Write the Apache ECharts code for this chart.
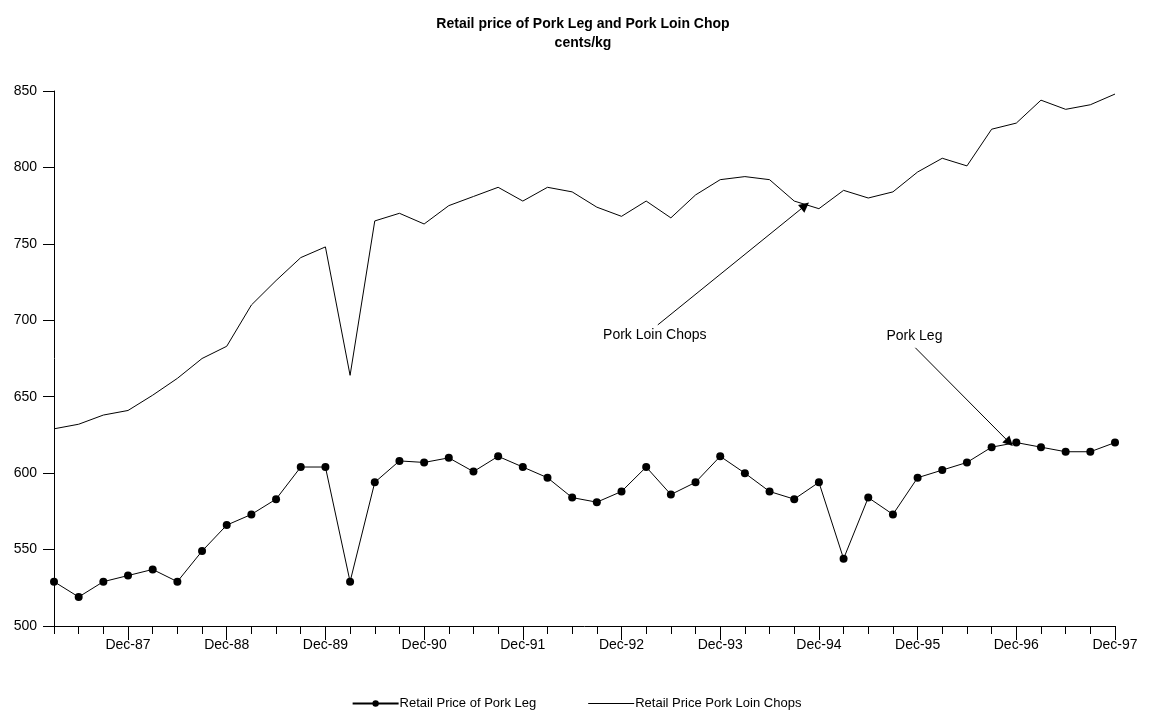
<!DOCTYPE html>
<html>
<head>
<meta charset="utf-8">
<title>Retail price of Pork Leg and Pork Loin Chop</title>
<script src="https://cdn.jsdelivr.net/npm/echarts@6/dist/echarts.min.js"></script>
<style>
  html, body { margin: 0; padding: 0; background: #fff; }
  #chart { width: 1153px; height: 715px; }
</style>
</head>
<body>
<div id="chart"></div>
<script>
// Quarterly observations, Mar-87 .. Dec-97
const years = ['87', '88', '89', '90', '91', '92', '93', '94', '95', '96', '97'];
const quarterMonths = ['Mar', 'Jun', 'Sep', 'Dec'];
const categories = years.flatMap(y => quarterMonths.map(m => m + '-' + y));

// cents/kg
const porkLeg = [
  529, 519, 529, 533, 537, 529, 549, 566, 573, 583, 604, 604,
  529, 594, 608, 607, 610, 601, 611, 604, 597, 584, 581, 588,
  604, 586, 594, 611, 600, 588, 583, 594, 544, 584, 573, 597,
  602, 607, 617, 620, 617, 614, 614, 620
];
const porkLoin = [
  629, 632, 638, 641, 651, 662, 675, 683, 710, 726, 741, 748,
  664, 765, 770, 763, 775, 781, 787, 778, 787, 784, 774, 768,
  778, 767, 782, 792, 794, 792, 778, 773, 785, 780, 784, 797,
  806, 801, 825, 829, 844, 838, 841, 848
];

const yTicks = { min: 500, max: 850, step: 50 };

// Callout anchors in data space: [quarter index, cents/kg]
const loinCallout = { text: 'Pork Loin Chops', label: [24.35, 690], from: [24.47, 697], to: [30.44, 775] };
const legCallout = { text: 'Pork Leg', label: [34.87, 689.5], from: [34.91, 682], to: [38.72, 620] };

const toPairs = arr => arr.map((v, i) => [i, v]);
const isDec = i => i % 4 === 3;
const FONT = 'Liberation Sans, Arial, sans-serif';

function callout(c) {
  return {
    markLine: {
      silent: true,
      animation: false,
      symbol: ['none', 'triangle'],
      symbolSize: 10,
      label: { show: false },
      lineStyle: { color: '#000', width: 1, type: 'solid' },
      emphasis: { disabled: true },
      data: [[{ coord: c.from }, { coord: c.to }]]
    },
    markPoint: {
      silent: true,
      animation: false,
      symbolSize: 0,
      label: { show: true, position: 'inside', color: '#000', fontSize: 14, fontFamily: FONT, formatter: c.text },
      data: [{ coord: c.label }]
    }
  };
}

const chart = echarts.init(document.getElementById('chart'), null, { renderer: 'canvas' });

chart.setOption({
  animation: false,
  backgroundColor: '#fff',
  textStyle: { fontFamily: FONT, color: '#000' },
  title: {
    text: 'Retail price of Pork Leg and Pork Loin Chop\ncents/kg',
    left: 578,
    top: 10,
    textAlign: 'center',
    textStyle: { fontSize: 14, fontWeight: 'bold', color: '#000', fontFamily: FONT, lineHeight: 19 }
  },
  legend: {
    bottom: 0,
    left: 'center',
    itemWidth: 46,
    itemHeight: 8,
    itemGap: 52,
    textStyle: { fontSize: 13, color: '#000', fontFamily: FONT, padding: [0, 0, 0, -4] },
    data: [
      { name: 'Retail Price of Pork Leg' },
      // plain line key, no marker
      { name: 'Retail Price Pork Loin Chops', icon: 'path://M0,0 L46,0 L46,1 L0,1 Z' }
    ]
  },
  grid: { left: 54, right: 38, top: 91, bottom: 89, containLabel: false },
  xAxis: [
    {
      type: 'value',
      min: 0,
      max: categories.length - 1,
      interval: 1,
      axisLine: { show: true, lineStyle: { color: '#000', width: 1 } },
      axisTick: { show: true, length: 8, lineStyle: { color: '#000' } },
      axisLabel: { show: false },
      splitLine: { show: false }
    },
    {
      type: 'category',
      position: 'bottom',
      boundaryGap: false,
      data: categories,
      axisLine: { show: false },
      axisTick: { show: true, length: 14, interval: isDec, lineStyle: { color: '#000' } },
      axisLabel: { show: true, interval: isDec, margin: 12, fontSize: 14, color: '#000', fontFamily: FONT },
      splitLine: { show: false }
    }
  ],
  yAxis: {
    type: 'value',
    min: yTicks.min,
    max: yTicks.max,
    interval: yTicks.step,
    axisLine: { show: true, lineStyle: { color: '#000', width: 1 } },
    axisTick: { show: true, length: 11, lineStyle: { color: '#000' } },
    axisLabel: { margin: 17, fontSize: 14, color: '#000', fontFamily: FONT },
    splitLine: { show: false }
  },
  series: [
    {
      name: 'Retail Price of Pork Leg',
      type: 'line',
      xAxisIndex: 0,
      data: toPairs(porkLeg),
      symbol: 'circle',
      symbolSize: 8,
      showSymbol: true,
      itemStyle: { color: '#000' },
      lineStyle: { color: '#000', width: 1 },
      ...callout(legCallout)
    },
    {
      name: 'Retail Price Pork Loin Chops',
      type: 'line',
      xAxisIndex: 0,
      data: toPairs(porkLoin),
      symbol: 'none',
      showSymbol: false,
      itemStyle: { color: '#000' },
      lineStyle: { color: '#000', width: 1 },
      ...callout(loinCallout)
    }
  ]
});
</script>
</body>
</html>
